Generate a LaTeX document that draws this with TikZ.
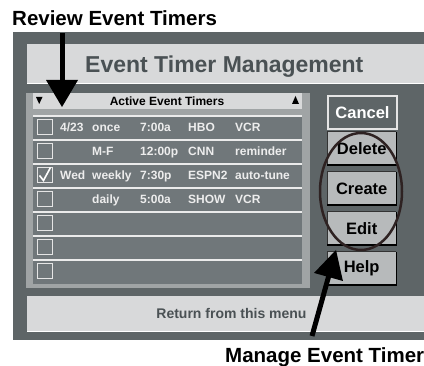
\documentclass[tikz,border=0pt]{standalone}
\usepackage{fontspec}
\setmainfont{Liberation Sans}
\usetikzlibrary{calc,shapes.geometric}
\definecolor{screen}{HTML}{5E6567}
\definecolor{bar}{HTML}{D8D9DA}
\definecolor{bartext}{HTML}{4A5154}
\definecolor{frame}{HTML}{A0A4A5}
\definecolor{list}{HTML}{70777A}
\definecolor{btn}{HTML}{B7BABB}
\definecolor{ring}{HTML}{2E2222}
\begin{document}
\begin{tikzpicture}[x=1pt, y=-1pt,
  lbl/.style={font=\fontsize{20.5}{24}\selectfont\bfseries, inner sep=0pt, anchor=base west},
  rowtxt/.style={font=\fontsize{12}{14}\selectfont\bfseries, text=white!93!black, inner sep=0pt, anchor=base west},
  chk/.style={draw=white!90!black, line width=1pt, minimum size=15pt, inner sep=0pt},
  button/.style={fill=btn, minimum width=69pt, minimum height=33pt, inner sep=0pt, anchor=north west,
    font=\fontsize{16.5}{18}\selectfont\bfseries},
  shaft/.style={line width=5pt}]
\useasboundingbox (0,0) rectangle (424,366);
% screen
\fill [screen] (13,32) rectangle (424,340);
\fill [bar] (27,44) rectangle (424,83);
\draw [white, line width=1pt] (27,83.5) -- (424,83.5);
\node [font=\fontsize{23}{26}\selectfont\bfseries, text=bartext, inner sep=0pt, anchor=base west] (title) at (85,73) {Event Timer Management};
% list of timers
\fill [frame] (26,93) rectangle (310,288);
\fill [bar] (33,93) rectangle (302,109);
\node [font=\fontsize{12}{14}\selectfont\bfseries, inner sep=0pt, anchor=base] (head) at (167,105.5) {Active Event Timers};
\fill (36,97) -- (42.5,97) -- (39.2,104) -- cycle;
\fill (292,104) -- (299,104) -- (295.5,96) -- cycle;
\fill [list] (33,116) rectangle (302,284);
\foreach \r in {0,...,6}
  \draw [white!92!black, line width=1.5pt] (33,116+24*\r) -- (302,116+24*\r);
\foreach \r in {0,...,6}
  \node [chk] (c\r) at (44.5,127.5+24*\r) {};
\foreach \r/\a/\b/\c/\d/\e in {0/{4/23}/once/7:00a/HBO/VCR, 1/{}/M-F/12:00p/CNN/reminder,
    2/Wed/weekly/7:30p/ESPN2/auto-tune, 3/{}/daily/5:00a/SHOW/VCR} {
  \node [rowtxt] (t\r a) at (60,132+24*\r) {\a};
  \node [rowtxt] (t\r b) at (92,132+24*\r) {\b};
  \node [rowtxt] (t\r c) at (140,132+24*\r) {\c};
  \node [rowtxt] (t\r d) at (188,132+24*\r) {\d};
  \node [rowtxt] (t\r e) at (235,132+24*\r) {\e};
}
\draw [white, line width=1.6pt] ([xshift=-5pt]c2.center) -- ([xshift=-1pt,yshift=-5pt]c2.center) -- ([xshift=6pt,yshift=8pt]c2.center);
% buttons
\node [button, fill=screen, draw=white!90!black, line width=2pt, text=white] (bCancel) at (327,95) {Cancel};
\foreach \nm/\tp in {Delete/132, Create/172, Edit/212, Help/252} {
  \node [button] (b\nm) at (327,\tp) {\nm};
  \draw [black!80, line width=1pt] (b\nm.south west) -- (b\nm.north west) -- (b\nm.north east);
  \draw [black, line width=1.8pt] (b\nm.north east) -- (b\nm.south east) -- (b\nm.south west);
}
\node [ellipse, draw=ring, line width=2.5pt, minimum width=82pt, minimum height=117pt] (oval) at (361,191.5) {};
% bottom bar
\fill [bar] (27,296) rectangle (424,331);
\draw [white, line width=1pt] (27,331.5) -- (424,331.5);
\node [font=\fontsize{14}{16}\selectfont\bfseries, text=bartext, inner sep=0pt] (back) at (231.5,313) {Return from this menu};
% callouts
\node [lbl] (rev) at (12,26) {Review Event Timers};
\node [lbl] (man) at (225,363) {Manage Event Timer};
\coordinate (revtail) at (62,33);
\coordinate (revtip) at (62,107);
\coordinate (mantail) at (312,336);
\coordinate (mantip) at (336,250);
\draw [shaft] (revtail) -- ($(revtip)!20pt!(revtail)$);
\fill ($(revtip)!27pt!(revtail)$) -- ($($(revtip)!27pt!(revtail)$)!16pt!90:(revtip)$) -- (revtip)
  -- ($($(revtip)!27pt!(revtail)$)!16pt!-90:(revtip)$) -- cycle;
\draw [shaft] (mantail) -- ($(mantip)!20pt!(mantail)$);
\fill ($(mantip)!28pt!(mantail)$) -- ($($(mantip)!28pt!(mantail)$)!15pt!90:(mantip)$) -- (mantip)
  -- ($($(mantip)!28pt!(mantail)$)!15pt!-90:(mantip)$) -- cycle;
\end{tikzpicture}
\end{document}
